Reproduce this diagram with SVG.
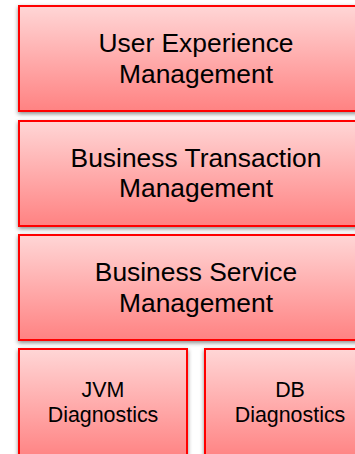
<svg xmlns="http://www.w3.org/2000/svg" width="355" height="454" viewBox="0 0 355 454">
<defs>
<linearGradient id="g" x1="0" y1="0" x2="0" y2="1">
<stop offset="0" stop-color="#FFD6D6"/>
<stop offset="1" stop-color="#FF8282"/>
</linearGradient>
<filter id="sh" x="-10%" y="-10%" width="120%" height="125%">
<feDropShadow dx="0" dy="2" stdDeviation="2.2" flood-color="#000" flood-opacity="0.45"/>
</filter>
</defs>
<style>
.box{fill:url(#g);stroke:#FF0000;stroke-width:2;filter:url(#sh)}
.big{font-family:"Liberation Sans",Arial,sans-serif;font-size:26.4px;fill:#000;text-anchor:middle}
.small{font-family:"Liberation Sans",Arial,sans-serif;font-size:21.4px;fill:#000;text-anchor:middle}
</style>
<rect width="355" height="454" fill="#FFFFFF"/>
<g id="connectors"></g>
<g id="uem">
<rect class="box" x="19" y="6" width="355" height="105"/>
<text class="big" x="196" y="52">User Experience</text>
<text class="big" x="196" y="83">Management</text>
</g>
<g id="btm">
<rect class="box" x="19" y="121" width="355" height="105"/>
<text class="big" x="196" y="167">Business Transaction</text>
<text class="big" x="196" y="197">Management</text>
</g>
<g id="bsm">
<rect class="box" x="19" y="235" width="355" height="105"/>
<text class="big" x="196" y="281">Business Service</text>
<text class="big" x="196" y="312">Management</text>
</g>
<g id="jvm">
<rect class="box" x="19" y="349" width="168" height="110"/>
<text class="small" x="103" y="397">JVM</text>
<text class="small" x="103" y="422">Diagnostics</text>
</g>
<g id="db">
<rect class="box" x="205" y="349" width="170" height="110"/>
<text class="small" x="290" y="397">DB</text>
<text class="small" x="290" y="422">Diagnostics</text>
</g>
</svg>
